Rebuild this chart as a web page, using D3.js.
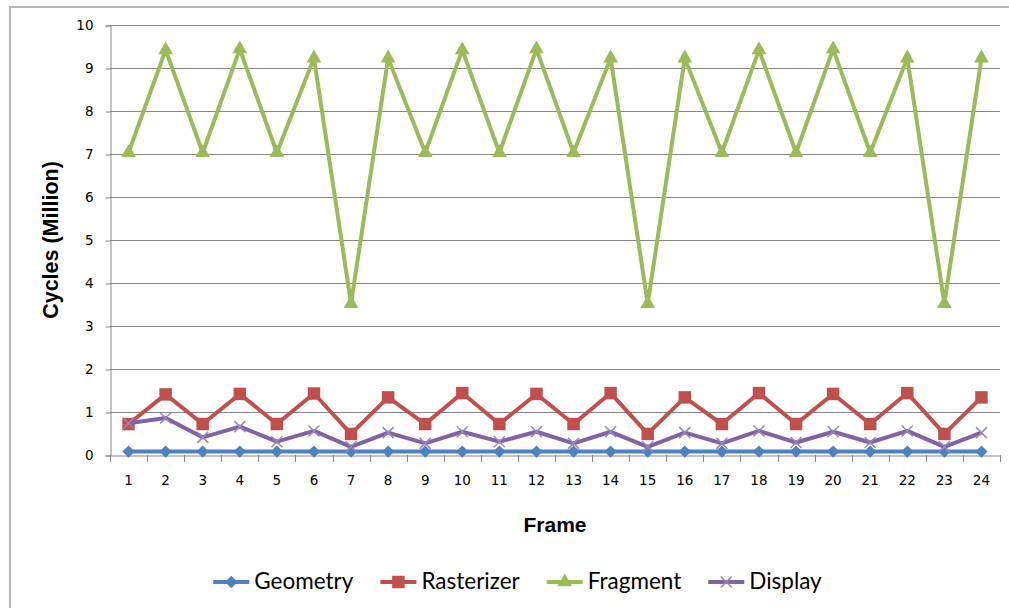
<!DOCTYPE html>
<html>
<head>
<meta charset="utf-8">
<script src="https://cdn.jsdelivr.net/npm/d3@7/dist/d3.min.js"></script>
<style>
  html, body { margin: 0; padding: 0; background: #ffffff; }
  svg { display: block; }
</style>
</head>
<body>
<svg id="chart" width="1009" height="608"></svg>
<script>
// Per-frame cycle counts (millions) for each pipeline stage
const frames = ["1","2","3","4","5","6","7","8","9","10","11","12","13","14","15","16","17","18","19","20","21","22","23","24"];
const geometry   = [0.08,0.08,0.08,0.08,0.08,0.08,0.08,0.08,0.08,0.08,0.08,0.08,0.08,0.08,0.08,0.08,0.08,0.08,0.08,0.08,0.08,0.08,0.08,0.08];
const rasterizer = [0.72,1.41,0.72,1.42,0.72,1.43,0.49,1.34,0.72,1.44,0.72,1.42,0.72,1.44,0.49,1.34,0.72,1.44,0.72,1.42,0.72,1.44,0.49,1.34];
const fragment   = [7.03,9.42,7.03,9.44,7.03,9.23,3.52,9.23,7.03,9.42,7.03,9.44,7.03,9.23,3.52,9.23,7.03,9.42,7.03,9.44,7.03,9.23,3.52,9.23];
const display    = [0.74,0.86,0.41,0.66,0.31,0.56,0.19,0.52,0.27,0.54,0.31,0.54,0.27,0.54,0.19,0.52,0.27,0.56,0.29,0.54,0.29,0.56,0.19,0.52];
const yTicks = [0,1,2,3,4,5,6,7,8,9,10];

const seriesNames = ["Geometry","Rasterizer","Fragment","Display"];
const seriesValues = [geometry, rasterizer, fragment, display];
const seriesColors = ["#4F81BD","#C0504D","#9BBB59","#8064A2"];
const seriesMarkers = ["diamond","square","triangle","cross"];

const svg = d3.select("#chart");
const plot = { left: 110, right: 1000, top: 25, bottom: 455 };
const gridColor = "#878787";

// chart-area frame
svg.append("rect")
  .attr("x", 10).attr("y", 7)
  .attr("width", 1020).attr("height", 620)
  .attr("fill", "#ffffff")
  .attr("stroke", "#b4b4b4").attr("stroke-width", 2);

const x = d3.scaleBand().domain(frames).range([plot.left, plot.right]).paddingInner(0).paddingOuter(0);
const y = d3.scaleLinear().domain([0, 10]).range([plot.bottom, plot.top]);
const cx = f => x(f) + x.bandwidth() / 2;

// horizontal gridlines
svg.append("g").selectAll("line")
  .data(yTicks.filter(t => t > 0))
  .join("line")
  .attr("x1", plot.left).attr("x2", plot.right)
  .attr("y1", d => Math.round(y(d)) + 0.5).attr("y2", d => Math.round(y(d)) + 0.5)
  .attr("stroke", gridColor).attr("stroke-width", 1);

// y axis
const yAxis = svg.append("g")
  .attr("transform", `translate(${plot.left + 0.5},0.5)`)
  .call(d3.axisLeft(y).tickValues(yTicks).tickFormat(d3.format("d")).tickSize(5).tickPadding(12));
yAxis.select(".domain").attr("stroke", gridColor);
yAxis.selectAll(".tick line").attr("stroke", gridColor);
yAxis.selectAll("text")
  .attr("font-family", "'DejaVu Sans', Verdana, sans-serif")
  .attr("font-size", "13.5px").attr("fill", "#000");

// x axis: labels at category centres, tick marks at category boundaries
const xAxis = svg.append("g")
  .attr("transform", `translate(0,${plot.bottom + 0.5})`)
  .call(d3.axisBottom(x).tickSize(0).tickPadding(20));
xAxis.select(".domain").attr("stroke", gridColor);
xAxis.selectAll("text")
  .attr("font-family", "'DejaVu Sans', Verdana, sans-serif")
  .attr("font-size", "13.5px").attr("fill", "#000");
const bounds = frames.map(f => x(f)).concat([plot.right]);
svg.append("g").selectAll("line")
  .data(bounds)
  .join("line")
  .attr("x1", d => Math.round(d) + 0.5).attr("x2", d => Math.round(d) + 0.5)
  .attr("y1", plot.bottom).attr("y2", plot.bottom + 7)
  .attr("stroke", gridColor).attr("stroke-width", 1);

// axis titles
svg.append("text")
  .attr("transform", `translate(58,${(plot.top + plot.bottom) / 2}) rotate(-90)`)
  .attr("text-anchor", "middle")
  .attr("font-family", "'Liberation Sans', Arial, sans-serif")
  .attr("font-weight", "bold").attr("font-size", "21.5px")
  .text("Cycles (Million)");
svg.append("text")
  .attr("x", (plot.left + plot.right) / 2).attr("y", 532)
  .attr("text-anchor", "middle")
  .attr("font-family", "'Liberation Sans', Arial, sans-serif")
  .attr("font-weight", "bold").attr("font-size", "21px")
  .text("Frame");

// marker shapes
function drawMarker(g, kind, color) {
  if (kind === "diamond") {
    g.append("path").attr("d", d3.symbol(d3.symbolSquare, 76)())
      .attr("transform", "rotate(45)").attr("fill", color);
  } else if (kind === "square") {
    g.append("path").attr("d", d3.symbol(d3.symbolSquare, 156)()).attr("fill", color);
  } else if (kind === "triangle") {
    g.append("path").attr("d", d3.symbol(d3.symbolTriangle, 95)()).attr("fill", color);
  } else {
    g.append("path").attr("d", "M-5.5,-5.5L5.5,5.5M5.5,-5.5L-5.5,5.5")
      .attr("stroke", "#9a86bb").attr("stroke-width", 1.5).attr("fill", "none");
  }
}

// series lines and markers
const line = d3.line().x((d, i) => cx(frames[i])).y(d => y(d));
seriesValues.forEach((vals, s) => {
  const g = svg.append("g");
  g.append("path").datum(vals)
    .attr("d", line)
    .attr("fill", "none")
    .attr("stroke", seriesColors[s])
    .attr("stroke-width", 4)
    .attr("stroke-linejoin", "round");
  g.selectAll("g.m").data(vals).join("g")
    .attr("class", "m")
    .attr("transform", (d, i) => `translate(${cx(frames[i])},${y(d)})`)
    .each(function () { drawMarker(d3.select(this), seriesMarkers[s], seriesColors[s]); });
});

// legend
const legend = svg.append("g");
let lx = 0;
seriesNames.forEach((name, s) => {
  const item = legend.append("g").attr("transform", `translate(${lx},0)`);
  item.append("line").attr("x1", 0).attr("x2", 36).attr("y1", 0).attr("y2", 0)
    .attr("stroke", seriesColors[s]).attr("stroke-width", 4);
  const mg = item.append("g").attr("transform", "translate(18,0)");
  drawMarker(mg, seriesMarkers[s], seriesColors[s]);
  const t = item.append("text").attr("x", 41).attr("y", 7)
    .attr("font-family", "Lato, 'Open Sans', sans-serif")
    .attr("font-size", "22.5px").attr("fill", "#000")
    .text(name);
  lx += 41 + t.node().getComputedTextLength() + 27;
});
const legendWidth = lx - 27;
legend.attr("transform", `translate(${517.5 - legendWidth / 2},582)`);
</script>
</body>
</html>
